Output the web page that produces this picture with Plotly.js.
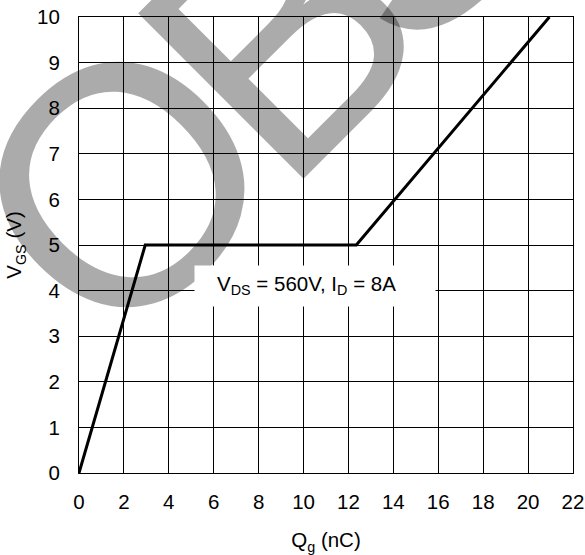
<!DOCTYPE html>
<html>
<head>
<meta charset="utf-8">
<script src="https://cdn.plot.ly/plotly-3.0.1.min.js"></script>
<style>
  html, body { margin: 0; padding: 0; background: #ffffff; }
  #chart { width: 585px; height: 555px; }
</style>
</head>
<body>
<div id="chart"></div>
<script>
// Gate charge characteristic: gate-source voltage vs total gate charge
const gateCharge = [0, 2.95, 12.35, 20.95];   // Qg (nC)
const gateVoltage = [0, 5, 5, 10];             // VGS (V)

const xTickVals = [0, 2, 4, 6, 8, 10, 12, 14, 16, 18, 20, 22];
const yTickVals = [0, 1, 2, 3, 4, 5, 6, 7, 8, 9, 10];

const testCondition = 'V<sub>DS</sub> = 560V, I<sub>D</sub> = 8A';

// Diagonal "OBS" stamp, one letter per annotation (paper coordinates)
const stampLetters = ['O', 'B', 'S'];
const stampX = [0.0870, 0.4075, 0.6615];
const stampY = [0.6327, 0.9612, 1.2452];

const FONT = 'Liberation Sans, Arial, Helvetica, sans-serif';
const STAMP_FONT = 'Liberation Sans Narrow, Arial Narrow, sans-serif';
const TXT = 20.5;

const trace = {
  x: gateCharge,
  y: gateVoltage,
  type: 'scatter',
  mode: 'lines',
  line: { color: '#000000', width: 3 },
  cliponaxis: true,
  hoverinfo: 'skip'
};

const axisCommon = {
  showgrid: true,
  gridcolor: '#000000',
  gridwidth: 1,
  showline: true,
  linecolor: '#000000',
  linewidth: 1,
  mirror: true,
  zeroline: false,
  ticks: '',
  tickfont: { family: FONT, size: TXT, color: '#000000' },
  fixedrange: true
};

const stampAnnotations = stampLetters.map((ch, i) => ({
  text: ch,
  xref: 'paper', yref: 'paper',
  x: stampX[i], y: stampY[i],
  xanchor: 'center', yanchor: 'middle',
  showarrow: false,
  textangle: -45,
  font: { family: STAMP_FONT, size: 340, color: 'rgba(0,0,0,0.33)' }
}));

const layout = {
  width: 585,
  height: 555,
  margin: { l: 79, r: 12, t: 17, b: 82 },
  paper_bgcolor: '#ffffff',
  plot_bgcolor: '#ffffff',
  showlegend: false,
  font: { family: FONT, size: TXT, color: '#000000' },
  xaxis: Object.assign({}, axisCommon, {
    range: [0, 22],
    tickmode: 'array',
    tickvals: xTickVals,
    ticktext: xTickVals.map(String),
    ticklabelstandoff: 10,
    title: { text: 'Q<sub>g</sub> (nC)', font: { family: FONT, size: TXT }, standoff: 21 }
  }),
  yaxis: Object.assign({}, axisCommon, {
    range: [0, 10],
    tickmode: 'array',
    tickvals: yTickVals,
    ticktext: yTickVals.map(String),
    ticklabelstandoff: 14,
    title: { text: 'V<sub>GS</sub> (V)', font: { family: FONT, size: TXT }, standoff: 9 }
  }),
  annotations: stampAnnotations.concat([
    {
      // white panel behind the test-condition note
      text: '\u00a0',
      xref: 'paper', yref: 'paper',
      x: 0.4777, y: 0.410,
      xanchor: 'center', yanchor: 'middle',
      showarrow: false,
      width: 240, height: 40,
      borderpad: 0,
      bgcolor: '#ffffff',
      font: { family: FONT, size: TXT }
    },
    {
      text: testCondition,
      xref: 'paper', yref: 'paper',
      x: 0.4605, y: 0.412,
      xanchor: 'center', yanchor: 'middle',
      showarrow: false,
      font: { family: FONT, size: TXT, color: '#000000' }
    }
  ])
};

Plotly.newPlot('chart', [trace], layout, { staticPlot: true, displayModeBar: false });
</script>
</body>
</html>
